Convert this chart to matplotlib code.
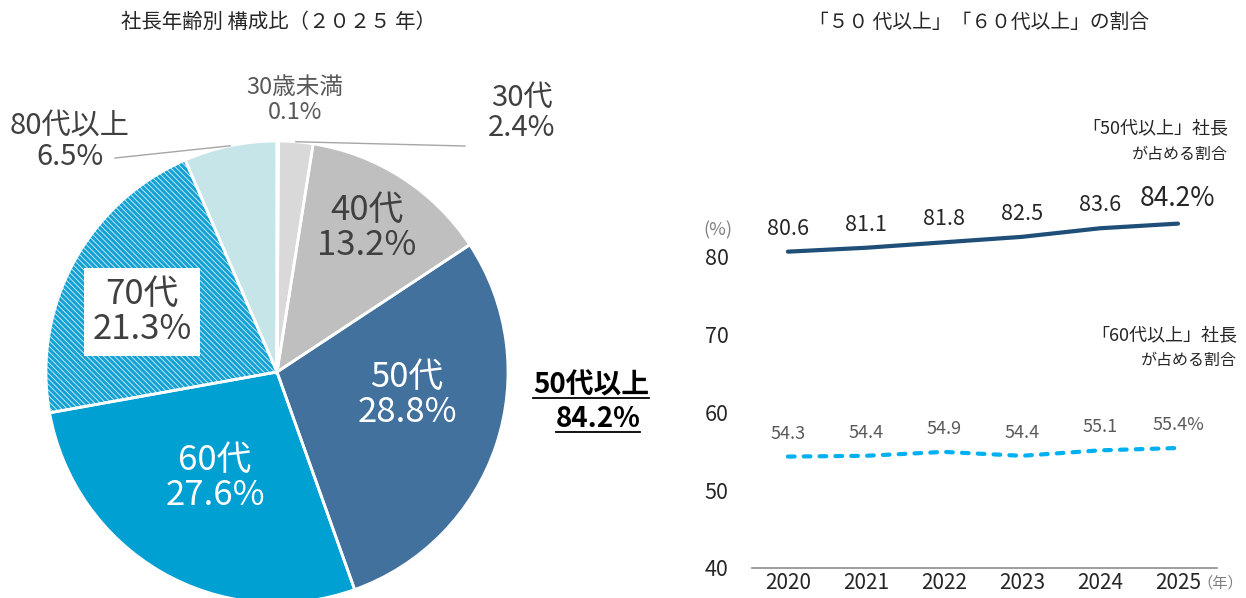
import numpy as np
import matplotlib.pyplot as plt
from matplotlib.lines import Line2D

plt.rcParams['font.family'] = ['Noto Sans CJK JP', 'DejaVu Sans']
plt.rcParams['hatch.linewidth'] = 2.2

# 構成比 (2025)
age_labels = ['30歳未満', '30代', '40代', '50代', '60代', '70代', '80代以上']
age_shares = [0.1, 2.4, 13.2, 28.8, 27.6, 21.3, 6.5]
age_colors = ['#ececec', '#d9d9d9', '#bfbfbf', '#41719c', '#00a0d2', '#d3edf7', '#c6e5e9']

# 推移
years = [2020, 2021, 2022, 2023, 2024, 2025]
over50 = [80.6, 81.1, 81.8, 82.5, 83.6, 84.2]
over60 = [54.3, 54.4, 54.9, 54.4, 55.1, 55.4]
yticks = [40, 50, 60, 70, 80]

W, H = 1246, 598
fig = plt.figure(figsize=(W / 100, H / 100), dpi=100)

# ---- pie ----
cx, cy, r = 277, 372, 231
axp = fig.add_axes([(cx - r) / W, (H - cy - r) / H, 2 * r / W, 2 * r / H])
wedges, _ = axp.pie(age_shares, startangle=90, counterclock=False, colors=age_colors,
                    wedgeprops=dict(linewidth=0))
wedges[5].set_edgecolor('#14a2d4')
wedges[5].set_hatch('\\\\\\\\\\\\')
axp.pie(age_shares, startangle=90, counterclock=False, colors=['none'] * len(age_shares),
        wedgeprops=dict(linewidth=2, edgecolor='white'))
axp.set_xlim(-1, 1)
axp.set_ylim(-1, 1)
axp.axis('off')


def pxy(x, y):
    return (x - cx) / r, (cy - y) / r


def pct(v):
    return f'{v:.1f}%'


dark = '#404040'
# labels inside / around the pie
axp.text(*pxy(367, 228), f'{age_labels[2]}\n{pct(age_shares[2])}', ha='center', va='center',
         fontsize=25, color=dark, linespacing=1.0)
axp.text(*pxy(407, 395), f'{age_labels[3]}\n{pct(age_shares[3])}', ha='center', va='center',
         fontsize=25, color='white', linespacing=1.0)
axp.text(*pxy(215, 478), f'{age_labels[4]}\n{pct(age_shares[4])}', ha='center', va='center',
         fontsize=25, color='white', linespacing=1.0)
axp.text(*pxy(142, 312), f'{age_labels[5]}\n{pct(age_shares[5])}', ha='center', va='center',
         fontsize=25, color=dark, linespacing=1.0,
         bbox=dict(boxstyle='square,pad=0.25', fc='white', ec='none'))
axp.text(*pxy(70, 142), f'{age_labels[6]}\n{pct(age_shares[6])}', ha='center', va='center',
         fontsize=21, color=dark, linespacing=1.0)
axp.text(*pxy(522, 113), f'{age_labels[1]}\n{pct(age_shares[1])}', ha='center', va='center',
         fontsize=21, color=dark, linespacing=1.0)
axp.text(*pxy(295, 100), f'{age_labels[0]}\n{pct(age_shares[0])}', ha='center', va='center',
         fontsize=17, color='#595959', linespacing=1.1)

# leader lines from slice edge
ang = 90.0
mids = []
for v in age_shares:
    span = v * 360 / sum(age_shares)
    mids.append(np.deg2rad(ang - span / 2))
    ang -= span
m1 = mids[1]
axp.plot([np.cos(m1), (465 - cx) / r], [np.sin(m1), (cy - 146) / r], color='#a6a6a6', lw=1, clip_on=False)
m6 = mids[6]
axp.plot([np.cos(m6), (115 - cx) / r], [np.sin(m6), (cy - 158) / r], color='#a6a6a6', lw=1, clip_on=False)

# 50代以上 total
total50 = sum(age_shares[3:])
t1 = fig.text(591 / W, 1 - 385 / H, '50代以上', ha='center', va='center', fontsize=20,
              fontweight='bold', color='black')
t2 = fig.text(598 / W, 1 - 419 / H, pct(total50), ha='center', va='center', fontsize=20,
              fontweight='bold', color='black')

fig.text(278 / W, 1 - 22 / H, '社長年齢別 構成比（２０２５ 年）', ha='center', va='center',
         fontsize=14.7, color='#262626')

# ---- line chart ----
ax = fig.add_axes([752 / W, (H - 568) / H, 465 / W, (568 - 194) / H])
ax.plot(years, over50, color='#1f4e79', lw=3.0, solid_capstyle='round', solid_joinstyle='round')
ax.plot(years, over60, color='#00b0f0', lw=3.0, ls=(0, (1.6, 2.2)), dash_capstyle='round')
ax.set_xlim(2019.54, 2025.5)
ax.set_ylim(40, 88)
ax.set_yticks(yticks)
ax.set_xticks(years)
ax.tick_params(length=0, labelsize=15.5, colors='#262626')
ax.tick_params(axis='y', pad=17)
ax.tick_params(axis='x', pad=3, labelsize=15)
for s in ['top', 'right', 'left']:
    ax.spines[s].set_visible(False)
ax.spines['bottom'].set_color('#8c8c8c')
ax.spines['bottom'].set_linewidth(1.2)

for i, (x, y) in enumerate(zip(years, over50)):
    last = i == len(years) - 1
    ax.annotate(pct(y) if last else f'{y:.1f}', (x, y), xytext=(0, 18 if last else 16.5),
                textcoords='offset points', ha='center', va='center',
                fontsize=19 if last else 15.5, color='#262626')
for i, (x, y) in enumerate(zip(years, over60)):
    last = i == len(years) - 1
    ax.annotate(pct(y) if last else f'{y:.1f}', (x, y), xytext=(0, 16.5),
                textcoords='offset points', ha='center', va='center',
                fontsize=13, color='#595959')

fig.text(718 / W, 1 - 230 / H, '(%)', ha='center', va='center', fontsize=13, color='#7f7f7f')
fig.text(1220 / W, 1 - 583 / H, '（年）', ha='center', va='center', fontsize=11, color='#7f7f7f')
fig.text(1228 / W, 1 - 128 / H, '「50代以上」社長', ha='right', va='center', fontsize=13, color='#262626')
fig.text(1228 / W, 1 - 154 / H, 'が占める割合', ha='right', va='center', fontsize=11.5, color='#262626')
fig.text(1237 / W, 1 - 335 / H, '「60代以上」社長', ha='right', va='center', fontsize=13, color='#262626')
fig.text(1237 / W, 1 - 360 / H, 'が占める割合', ha='right', va='center', fontsize=11.5, color='#262626')
fig.text(979 / W, 1 - 22 / H, '「５０ 代以上」「６０代以上」の割合', ha='center', va='center',
         fontsize=14.2, color='#262626')

# underline for the total label
fig.canvas.draw()
rend = fig.canvas.get_renderer()
for t in (t1, t2):
    bb = t.get_window_extent(rend)
    fig.add_artist(Line2D([bb.x0 / W, bb.x1 / W], [(bb.y0 + 1) / H] * 2, color='black', lw=1.3))

fig.savefig('out.png', dpi=100)
